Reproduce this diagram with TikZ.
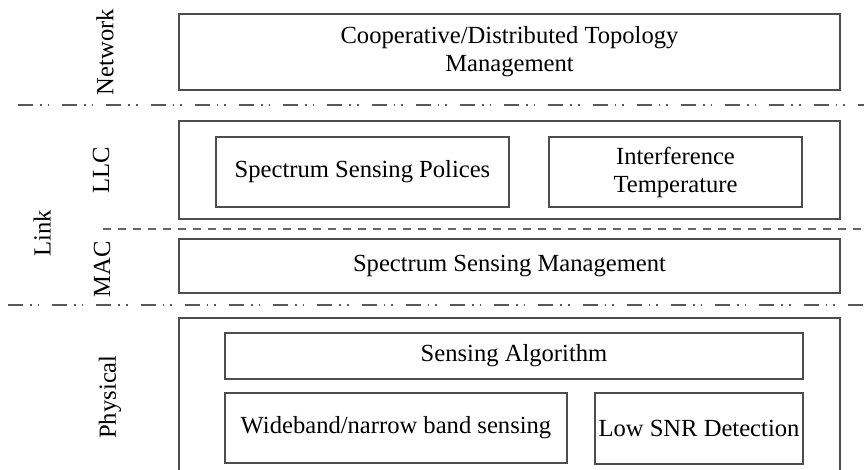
\documentclass[tikz,border=0pt]{standalone}
\usepackage{fontspec}
\setmainfont{Liberation Serif}
\usepackage{xcolor}
\usepackage{tikz}

\begin{document}
\begin{tikzpicture}[
    x=0.5pt, y=-0.5pt,
    box/.style={draw=black!70, line width=0.9pt, inner sep=0pt, align=center,
                text=black, font=\fontsize{12.3}{14}\selectfont},
    layer/.style={text=black, rotate=90, inner sep=0pt,
                  font=\fontsize{12.3}{14}\selectfont},
    dashdot/.style={draw=black!65, line width=0.75pt,
                    dash pattern=on 7.5pt off 3.5pt on 0.8pt off 3pt on 0.8pt off 6.5pt},
    split/.style={draw=black!60, line width=0.75pt, dash pattern=on 4pt off 3.5pt},
  ]
    \useasboundingbox (0,0) rectangle (864,470);
    \clip (0,0) rectangle (864,470);

    % layer names on the left
    \node[layer] (network) at (105, 52) {Network};
    \node[layer] (llc)     at (101,170) {LLC};
    \node[layer] (link)    at ( 42,233) {Link};
    \node[layer] (mac)     at (102,269) {MAC};
    \node[layer] (phy)     at (110,397) {Physical};

    % network layer
    \node[box, minimum width=330.5pt, minimum height=38pt] (topo) at (509.5,52)
      {Cooperative/Distributed Topology\\Management};

    % link layer: LLC
    \node[box, minimum width=330.5pt, minimum height=49pt] (llcbox) at (509.5,170) {};
    \node[box, minimum width=146.5pt, minimum height=35pt] (polices) at (362.5,172)
      {Spectrum Sensing Polices};
    \node[box, minimum width=126.5pt, minimum height=35pt] (temp) at (675.5,172)
      {Interference\\Temperature};

    % link layer: MAC
    \node[box, minimum width=330.5pt, minimum height=27pt] (mgmt) at (509.5,266)
      {Spectrum Sensing Management};

    % physical layer (runs off the bottom edge)
    \node[box, minimum width=330.5pt, minimum height=82pt] (phybox) at (509.5,400) {};
    \node[box, minimum width=289pt, minimum height=23pt] (algo) at (514,356)
      {Sensing Algorithm};
    \node[box, minimum width=171pt, minimum height=35pt] (wide) at (396,428)
      {Wideband/narrow band sensing};
    \node[box, minimum width=104pt, minimum height=35.5pt] (snr) at (699,428.5)
      {Low SNR Detection};

    % layer boundaries
    \coordinate (netL) at (18,105);  \coordinate (netR) at (864,105);
    \coordinate (macL) at (103,229); \coordinate (macR) at (864,229);
    \coordinate (phyL) at (8,305);   \coordinate (phyR) at (864,305);
    \draw[dashdot] (netL) -- (netR);
    \draw[split]   (macL) -- (macR);
    \draw[dashdot] (phyL) -- (phyR);
  \end{tikzpicture}
\end{document}
